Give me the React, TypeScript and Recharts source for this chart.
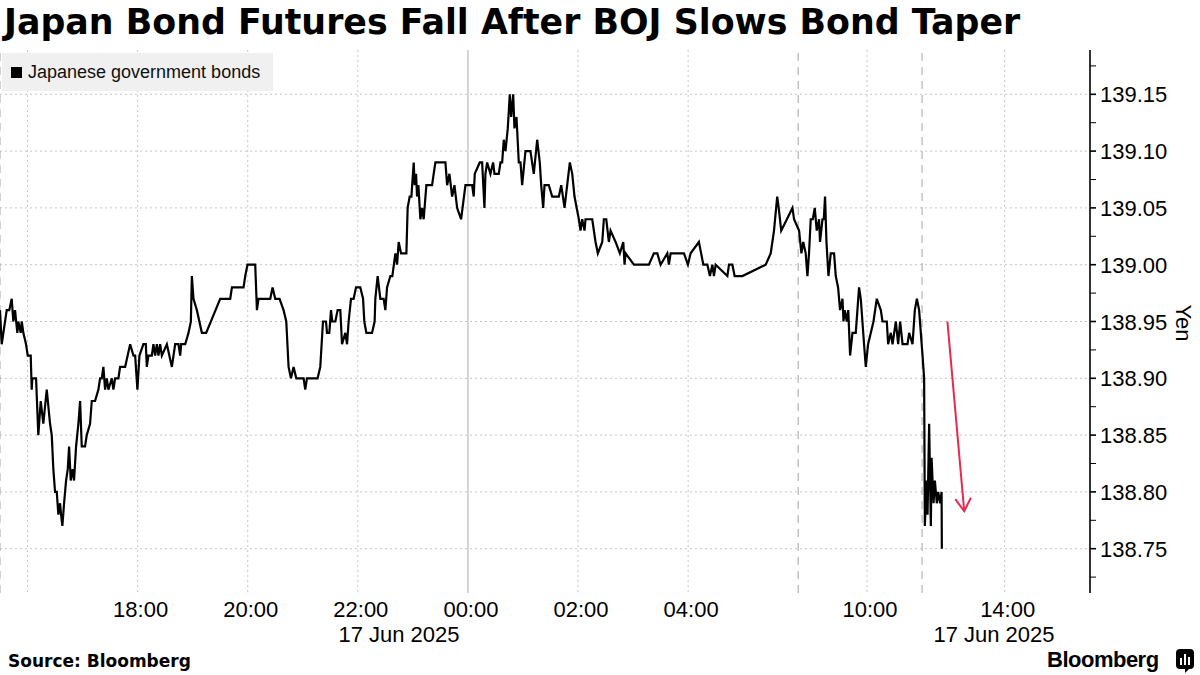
import { CartesianGrid, Line, LineChart, ReferenceLine, XAxis, YAxis } from "recharts";

// x = hours on a session axis that starts at the 15:30 night open (16 Jun),
// with the 06:00-08:45 and 11:00-12:30 breaks squeezed out.
const times = [
  0, 0.031, 0.122, 0.169, 0.213, 0.242, 0.273, 0.315, 0.333, 0.376,
  0.395, 0.424, 0.473, 0.504, 0.558, 0.576, 0.587, 0.655, 0.696, 0.74,
  0.787, 0.849, 0.909, 0.94, 0.969, 1.0, 1.031, 1.06, 1.091, 1.109,
  1.133, 1.164, 1.2, 1.231, 1.255, 1.285, 1.318, 1.345, 1.382, 1.424,
  1.455, 1.485, 1.545, 1.576, 1.636, 1.667, 1.727, 1.787, 1.818, 1.849,
  1.878, 1.909, 1.94, 1.969, 2.031, 2.06, 2.091, 2.151, 2.182, 2.273,
  2.364, 2.424, 2.455, 2.496, 2.533, 2.605, 2.649, 2.667, 2.696, 2.758,
  2.787, 2.818, 2.849, 2.878, 2.909, 2.94, 3.031, 3.122, 3.182, 3.242,
  3.273, 3.291, 3.364, 3.424, 3.467, 3.485, 3.515, 3.576, 3.667, 3.745,
  4.0, 4.182, 4.213, 4.424, 4.455, 4.496, 4.636, 4.667, 4.696, 4.909,
  4.951, 5.0, 5.078, 5.151, 5.2, 5.242, 5.285, 5.333, 5.382, 5.515,
  5.545, 5.576, 5.769, 5.818, 5.867, 5.922, 5.94, 5.982, 6.013, 6.036,
  6.091, 6.133, 6.182, 6.213, 6.273, 6.304, 6.333, 6.376, 6.424, 6.467,
  6.545, 6.595, 6.618, 6.655, 6.758, 6.805, 6.818, 6.86, 6.909, 6.969,
  7.0, 7.031, 7.091, 7.127, 7.182, 7.213, 7.242, 7.285, 7.382, 7.405,
  7.442, 7.473, 7.515, 7.533, 7.558, 7.576, 7.6, 7.636, 7.667, 7.696,
  7.745, 7.849, 7.878, 7.909, 8.091, 8.122, 8.164, 8.213, 8.255, 8.304,
  8.376, 8.455, 8.576, 8.605, 8.624, 8.715, 8.758, 8.8, 8.818, 8.849,
  8.909, 8.958, 8.982, 9.06, 9.091, 9.122, 9.151, 9.182, 9.224, 9.26,
  9.285, 9.322, 9.345, 9.382, 9.424, 9.455, 9.485, 9.545, 9.636, 9.696,
  9.758, 9.805, 9.831, 9.867, 9.891, 9.969, 10.031, 10.151, 10.195, 10.255,
  10.351, 10.395, 10.436, 10.515, 10.545, 10.576, 10.618, 10.636, 10.758, 10.818,
  10.86, 10.94, 10.969, 11.013, 11.06, 11.091, 11.182, 11.26, 11.322, 11.345,
  11.364, 11.515, 11.787, 11.878, 11.94, 12.0, 12.122, 12.151, 12.182, 12.424,
  12.496, 12.545, 12.696, 12.776, 12.849, 12.896, 12.94, 12.969, 13.0, 13.213,
  13.242, 13.304, 13.345, 13.485, 13.909, 14.0, 14.06, 14.118, 14.145, 14.191,
  14.395, 14.424, 14.515, 14.558, 14.591, 14.636, 14.667, 14.696, 14.727, 14.764,
  14.8, 14.836, 14.878, 14.896, 14.94, 14.964, 14.987, 15.013, 15.049, 15.091,
  15.151, 15.182, 15.224, 15.26, 15.304, 15.322, 15.345, 15.382, 15.409, 15.442,
  15.485, 15.545, 15.605, 15.636, 15.696, 15.727, 15.769, 15.867, 15.927, 16.0,
  16.031, 16.109, 16.133, 16.182, 16.213, 16.273, 16.315, 16.351, 16.395, 16.485,
  16.515, 16.576, 16.618, 16.655, 16.696, 16.758, 16.787, 16.8, 16.831, 16.849,
  16.878, 16.909, 16.922, 16.958, 16.982, 17.018, 17.042, 17.078, 17.104, 17.109,
];

// JGB futures price, yen
const prices = [
  138.96, 138.93, 138.96, 138.96, 138.97, 138.95, 138.96, 138.94, 138.95, 138.94,
  138.95, 138.94, 138.93, 138.92, 138.92, 138.89, 138.9, 138.9, 138.85, 138.88,
  138.86, 138.89, 138.86, 138.85, 138.82, 138.8, 138.8, 138.78, 138.79, 138.78,
  138.77, 138.79, 138.81, 138.82, 138.84, 138.81, 138.82, 138.81, 138.84, 138.86,
  138.88, 138.84, 138.84, 138.85, 138.86, 138.88, 138.88, 138.89, 138.9, 138.9,
  138.91, 138.89, 138.9, 138.89, 138.9, 138.89, 138.9, 138.9, 138.91, 138.91,
  138.93, 138.92, 138.92, 138.89, 138.92, 138.93, 138.93, 138.91, 138.92, 138.92,
  138.93, 138.92, 138.93, 138.92, 138.93, 138.92, 138.93, 138.91, 138.93, 138.93,
  138.92, 138.93, 138.93, 138.94, 138.95, 138.99, 138.97, 138.96, 138.94, 138.94,
  138.97, 138.97, 138.98, 138.98, 138.99, 139.0, 139.0, 138.96, 138.97, 138.97,
  138.98, 138.97, 138.97, 138.96, 138.95, 138.91, 138.9, 138.91, 138.9, 138.9,
  138.89, 138.9, 138.9, 138.91, 138.95, 138.95, 138.94, 138.94, 138.96, 138.95,
  138.95, 138.96, 138.96, 138.93, 138.94, 138.93, 138.95, 138.97, 138.97, 138.98,
  138.98, 138.97, 138.95, 138.94, 138.94, 138.95, 138.97, 138.99, 138.97, 138.97,
  138.96, 138.98, 138.99, 138.99, 139.01, 139.0, 139.02, 139.01, 139.01, 139.05,
  139.06, 139.06, 139.09, 139.07, 139.08, 139.06, 139.07, 139.04, 139.05, 139.04,
  139.07, 139.07, 139.08, 139.09, 139.09, 139.07, 139.08, 139.06, 139.07, 139.05,
  139.04, 139.07, 139.07, 139.06, 139.08, 139.09, 139.09, 139.05, 139.08, 139.09,
  139.08, 139.09, 139.08, 139.08, 139.09, 139.09, 139.11, 139.1, 139.12, 139.15,
  139.13, 139.15, 139.12, 139.13, 139.09, 139.09, 139.07, 139.1, 139.1, 139.08,
  139.11, 139.09, 139.07, 139.05, 139.07, 139.07, 139.06, 139.06, 139.07, 139.05,
  139.09, 139.08, 139.06, 139.04, 139.03, 139.04, 139.03, 139.04, 139.04, 139.02,
  139.01, 139.02, 139.04, 139.04, 139.02, 139.03, 139.02, 139.01, 139.02, 139.0,
  139.01, 139.0, 139.0, 139.01, 139.01, 139.0, 139.01, 139.0, 139.01, 139.01,
  139.0, 139.01, 139.02, 139.0, 139.0, 138.99, 139.0, 138.99, 139.0, 138.99,
  139.0, 139.0, 138.99, 138.99, 139.0, 139.01, 139.03, 139.06, 139.05, 139.03,
  139.05, 139.04, 139.03, 139.01, 139.02, 139.01, 138.99, 139.01, 139.04, 139.04,
  139.05, 139.03, 139.04, 139.02, 139.04, 139.04, 139.06, 139.02, 138.99, 139.01,
  139.01, 138.99, 138.98, 138.96, 138.97, 138.95, 138.96, 138.95, 138.96, 138.92,
  138.94, 138.94, 138.98, 138.97, 138.93, 138.91, 138.93, 138.95, 138.97, 138.96,
  138.95, 138.95, 138.93, 138.94, 138.93, 138.95, 138.93, 138.95, 138.93, 138.93,
  138.94, 138.93, 138.96, 138.97, 138.96, 138.92, 138.9, 138.77, 138.81, 138.78,
  138.86, 138.77, 138.83, 138.79, 138.81, 138.79, 138.8, 138.79, 138.8, 138.75,
];

const xTicks = [2.5, 4.5, 6.5, 8.5, 10.5, 12.5, 15.75, 18.25];
const xTickLabels = ["18:00", "20:00", "22:00", "00:00", "02:00", "04:00", "10:00", "14:00"];
const xGridDotted = [0.5, 2.5, 4.5, 6.5, 10.5, 12.5, 15.75, 18.25];
const sessionBreaks = [0, 14.5, 16.75];
const dayChange = 8.5;

const yTicks = [138.75, 138.8, 138.85, 138.9, 138.95, 139.0, 139.05, 139.1, 139.15];
const yMinorTicks = [138.725, 138.775, 138.825, 138.875, 138.925, 138.975, 139.025, 139.075, 139.125, 139.175];

const arrowFrom = { t: 17.21, v: 138.95 };
const arrowTo = { t: 17.515, v: 138.783 };

const data = times.map((t, i) => ({ t, v: prices[i] }));
const allYTicks = [...yTicks, ...yMinorTicks].sort((a, b) => a - b);

const TICK_FONT = "'Liberation Sans', Arial, sans-serif";

function YTick(props: any) {
  const { x, y, payload } = props;
  const major = yTicks.some((t) => Math.abs(t - payload.value) < 1e-6);
  return (
    <g>
      <line x1={x - 10} x2={x - 4} y1={y} y2={y} stroke="#000" strokeWidth={major ? 1.6 : 1} />
      {major && (
        <text x={x} y={y + 8} fontSize={22} fill="#000" fontFamily={TICK_FONT} textAnchor="start">
          {payload.value.toFixed(2)}
        </text>
      )}
    </g>
  );
}

function XTick(props: any) {
  const { x, y, payload } = props;
  const i = xTicks.indexOf(payload.value);
  return (
    <text x={x + 3} y={y + 16} fontSize={22} fill="#000" fontFamily={TICK_FONT} textAnchor="middle">
      {xTickLabels[i]}
    </text>
  );
}

function Arrow(props: any) {
  const { x1, y1, x2, y2 } = props;
  const ang = Math.atan2(y2 - y1, x2 - x1) + Math.PI;
  const len = 15;
  const spread = 0.55;
  const ax = x2 + len * Math.cos(ang - spread);
  const ay = y2 + len * Math.sin(ang - spread);
  const bx = x2 + len * Math.cos(ang + spread);
  const by = y2 + len * Math.sin(ang + spread);
  return (
    <g>
      <line x1={x1} y1={y1} x2={x2} y2={y2} stroke="#e8294f" strokeWidth={2} />
      <polyline points={`${ax},${ay} ${x2},${y2} ${bx},${by}`} fill="none" stroke="#e8294f" strokeWidth={2} />
    </g>
  );
}

export default function App() {
  return (
    <div
      style={{
        position: "absolute",
        left: 0,
        top: 0,
        width: 1200,
        height: 675,
        background: "#fff",
        fontFamily: TICK_FONT,
        overflow: "hidden",
      }}
    >
      <LineChart width={1200} height={675} data={data} margin={{ top: 50, right: 0, bottom: 0, left: 0 }}>
        <CartesianGrid
          stroke="#c6c6c6"
          strokeDasharray="2 3"
          horizontalValues={yTicks}
          verticalValues={xGridDotted}
        />
        {sessionBreaks.map((t) => (
          <ReferenceLine key={t} x={t} stroke="#b5b5b5" strokeDasharray="8 6" strokeWidth={1.2} />
        ))}
        <ReferenceLine x={dayChange} stroke="#b9b9b9" strokeWidth={1.2} />
        <XAxis
          dataKey="t"
          type="number"
          domain={[0, 19.8]}
          ticks={xTicks}
          height={82}
          axisLine={false}
          tickLine={false}
          tick={<XTick />}
          interval={0}
          allowDataOverflow
        />
        <YAxis
          orientation="right"
          type="number"
          domain={[138.711, 139.189]}
          ticks={allYTicks}
          width={110}
          axisLine={{ stroke: "#000", strokeWidth: 1.6 }}
          tickLine={false}
          tickSize={6}
          tickMargin={4}
          tick={<YTick />}
          interval={0}
          allowDataOverflow
        />
        <Line
          type="linear"
          dataKey="v"
          stroke="#000"
          strokeWidth={2.2}
          dot={false}
          isAnimationActive={false}
        />
        <ReferenceLine
          segment={[
            { x: arrowFrom.t, y: arrowFrom.v },
            { x: arrowTo.t, y: arrowTo.v },
          ]}
          shape={Arrow}
        />
      </LineChart>

      <div
        style={{
          position: "absolute",
          left: 4,
          top: 2,
          fontFamily: "'DejaVu Sans', sans-serif",
          fontWeight: 700,
          fontSize: 34.8,
          color: "#000",
          whiteSpace: "nowrap",
        }}
      >
        Japan Bond Futures Fall After BOJ Slows Bond Taper
      </div>

      <div
        style={{
          position: "absolute",
          left: 2,
          top: 53,
          width: 271,
          height: 38,
          background: "#f0f0f0",
          display: "flex",
          alignItems: "center",
        }}
      >
        <div style={{ width: 11, height: 11, background: "#000", marginLeft: 9, marginRight: 6 }} />
        <span style={{ fontSize: 18, color: "#111" }}>Japanese government bonds</span>
      </div>

      <div
        style={{
          position: "absolute",
          left: 1183,
          top: 323,
          transform: "translate(-50%, -50%) rotate(90deg)",
          fontSize: 22,
          color: "#000",
        }}
      >
        Yen
      </div>

      {[399, 994].map((cx) => (
        <div
          key={cx}
          style={{
            position: "absolute",
            left: cx,
            top: 622,
            transform: "translateX(-50%)",
            fontSize: 22,
            color: "#000",
            whiteSpace: "nowrap",
          }}
        >
          17 Jun 2025
        </div>
      ))}

      <div
        style={{
          position: "absolute",
          left: 8,
          top: 651,
          fontFamily: "'DejaVu Sans', sans-serif",
          fontWeight: 700,
          fontSize: 17,
          color: "#000",
        }}
      >
        Source: Bloomberg
      </div>

      <div
        style={{
          position: "absolute",
          left: 1047,
          top: 647,
          fontFamily: TICK_FONT,
          fontWeight: 700,
          fontSize: 22,
          letterSpacing: -0.5,
          color: "#000",
        }}
      >
        Bloomberg
      </div>
      <svg style={{ position: "absolute", left: 1176, top: 649 }} width={20} height={24}>
        <rect x={0} y={0} width={18} height={20} rx={4} fill="#000" />
        <rect x={4} y={9} width={2} height={7} fill="#fff" />
        <rect x={8} y={5} width={2} height={11} fill="#fff" />
        <rect x={12} y={8} width={2} height={8} fill="#fff" />
        <path d="M9 20 L9 24 L13 20 Z" fill="#000" />
      </svg>
    </div>
  );
}
